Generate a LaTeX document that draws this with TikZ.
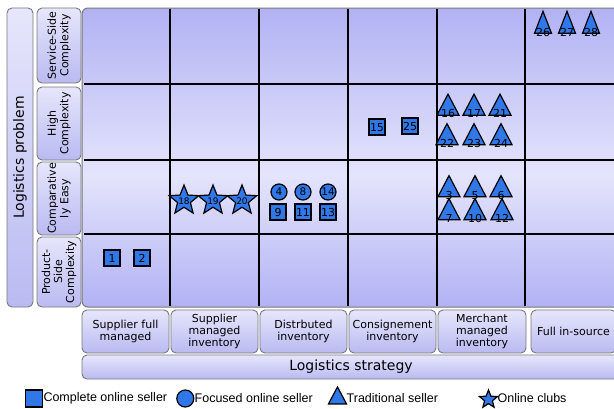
\documentclass[tikz,border=0pt]{standalone}
\usepackage{fontspec}
\setmainfont{DejaVu Sans}
\newfontfamily\legfont{Liberation Sans}
\usetikzlibrary{shapes.geometric,shadows}
\definecolor{mblue}{RGB}{48,120,232}
\definecolor{gdark}{RGB}{178,178,244}
\definecolor{glight}{RGB}{228,228,252}
\definecolor{lblA}{RGB}{230,230,252}
\definecolor{lblB}{RGB}{186,186,242}
\definecolor{edge}{RGB}{120,120,120}
\pgfdeclareverticalshading{gridshade}{100bp}{color(0bp)=(gdark); color(25bp)=(gdark); color(47bp)=(glight); color(75bp)=(gdark); color(100bp)=(gdark)}
\tikzset{
  lbl/.style={draw=edge, line width=0.9pt, rounded corners=5pt, top color=lblA, bottom color=lblB,
    align=center, inner sep=1pt, font=\fontsize{11}{12.5}\selectfont, text=black},
  big/.style={lbl, font=\fontsize{14}{16}\selectfont},
  gridline/.style={black, line width=1.1pt},
  zt/.style={text height=0pt, text depth=0pt,
    execute at begin node={\hbox to 0pt\bgroup\hss\lower#1\hbox\bgroup},
    execute at end node={\egroup\hss\egroup}},
  mk/.style={draw=black, fill=mblue, line width=1.2pt, inner sep=0pt, text=black},
  sq/.style={mk, rectangle, minimum size=16pt, zt=4pt, font=\fontsize{11}{11}\selectfont,
    drop shadow={shadow xshift=1pt, shadow yshift=-1pt, fill=black!45, opacity=0.6}},
  ci/.style={mk, circle, minimum size=16pt, zt=3.8pt, font=\fontsize{10.5}{11}\selectfont},
  tri/.style={mk, isosceles triangle, isosceles triangle stretches, shape border rotate=90,
    minimum width=22pt, minimum height=21pt, zt=9pt, font=\fontsize{11}{11}\selectfont},
  trin/.style={tri, minimum width=17pt, minimum height=22pt},
  stst/.style={mk, star, star points=5, star point ratio=2.3, minimum size=31pt, zt=3.5pt,
    font=\fontsize{9}{9}\selectfont},
  legtxt/.style={anchor=west, inner sep=0pt, font=\legfont\fontsize{12.5}{14}\selectfont, text=black},
}
\begin{document}
\begin{tikzpicture}[x=1pt,y=-1pt]
\useasboundingbox (0,0) rectangle (614,408);
% grid
\path[draw=edge, line width=1pt, rounded corners=6pt, shading=gridshade] (82,8) rectangle (660,307);
\foreach \yy in {84,160,234} \draw[gridline] (84,\yy) -- (660,\yy);
\foreach \xx in {170,259,348,437,525} \draw[gridline] (\xx,8.5) -- (\xx,306);
% problem labels
\node[big, rotate=90, minimum width=299, minimum height=26] (prob) at (20,157.5) {Logistics problem};
\node[lbl, rotate=90, minimum width=75, minimum height=44] (r1) at (59,45.5) {Service-Side\\Complexity};
\node[lbl, rotate=90, minimum width=73, minimum height=44] (r2) at (59,123.5) {High\\Complexity};
\node[lbl, rotate=90, minimum width=73, minimum height=44] (r3) at (59,198.5) {Comparative\\ly Easy};
\node[lbl, rotate=90, minimum width=70, minimum height=44, font=\fontsize{11}{12}\selectfont] (r4) at (59,272) {Product-\\Side\\Complexity};
% strategy labels
\node[lbl, minimum width=87, minimum height=43] (c1) at (125.5,331.5) {Supplier full\\managed};
\node[lbl, minimum width=87, minimum height=43, font=\fontsize{11}{12}\selectfont] (c2) at (214.5,331.5) {Supplier\\managed\\inventory};
\node[lbl, minimum width=87, minimum height=43] (c3) at (303.5,331.5) {Distrbuted\\inventory};
\node[lbl, minimum width=87, minimum height=43] (c4) at (392.5,331.5) {Consignement\\inventory};
\node[lbl, minimum width=88, minimum height=43, font=\fontsize{11}{12}\selectfont] (c5) at (482,331.5) {Merchant\\managed\\inventory};
\node[lbl, minimum width=85, minimum height=43] (c6) at (573.5,331.5) {Full in-source};
\path[draw=edge, line width=0.9pt, rounded corners=5pt, top color=lblA, bottom color=lblB] (82,355) rectangle (660,379);
\node[inner sep=0pt, font=\fontsize{14}{16}\selectfont] (strat) at (351,367) {Logistics strategy};
% markers
\node[sq] (s1) at (112,258) {1};
\node[sq] (s2) at (142,258) {2};
\node[stst] (st18) at (184,200.5) {18};
\node[stst] (st19) at (213,200.5) {19};
\node[stst] (st20) at (242,200.5) {20};
\node[ci] (c4m) at (279,192) {4};
\node[ci] (c8m) at (303,192) {8};
\node[ci] (c14m) at (328,192) {14};
\node[sq] (s9) at (278,212) {9};
\node[sq] (s11) at (303,212) {11};
\node[sq] (s13) at (328,212) {13};
\node[sq] (s15) at (377,127) {15};
\node[sq] (s25) at (410,126) {25};
\node[tri] (t16) at (448,108.5) {16};
\node[tri] (t17) at (474,108.5) {17};
\node[tri] (t21) at (500,108.5) {21};
\node[tri] (t22) at (447,138) {22};
\node[tri] (t23) at (474,138) {23};
\node[tri] (t24) at (501,138) {24};
\node[tri] (t3) at (449,190) {3};
\node[tri] (t5) at (475,190) {5};
\node[tri] (t6) at (501,190) {6};
\node[tri] (t7) at (449,213) {7};
\node[tri] (t10) at (475,213) {10};
\node[tri] (t12) at (502,213) {12};
\node[trin] (t26) at (543,27.5) {26};
\node[trin] (t27) at (567,27.5) {27};
\node[trin] (t28) at (591,27.5) {28};
% legend
\node[mk, rectangle, minimum size=17pt] (lsq) at (33.7,398.5) {};
\node[legtxt] (lsqt) at (43.3,398.5) {Complete online seller};
\node[mk, circle, minimum size=17pt] (lci) at (185.3,398.5) {};
\node[legtxt] (lcit) at (194.5,398.5) {Focused online seller};
\node[mk, isosceles triangle, isosceles triangle stretches, shape border rotate=90, minimum width=18pt, minimum height=17pt] (ltr) at (337.5,398.5) {};
\node[legtxt] (ltrt) at (346.5,398.5) {Traditional seller};
\node[mk, star, star points=5, star point ratio=2.3, minimum size=19pt] (lst) at (488.5,399.5) {};
\node[legtxt] (lstt) at (497.5,398.5) {Online clubs};
\end{tikzpicture}
\end{document}
